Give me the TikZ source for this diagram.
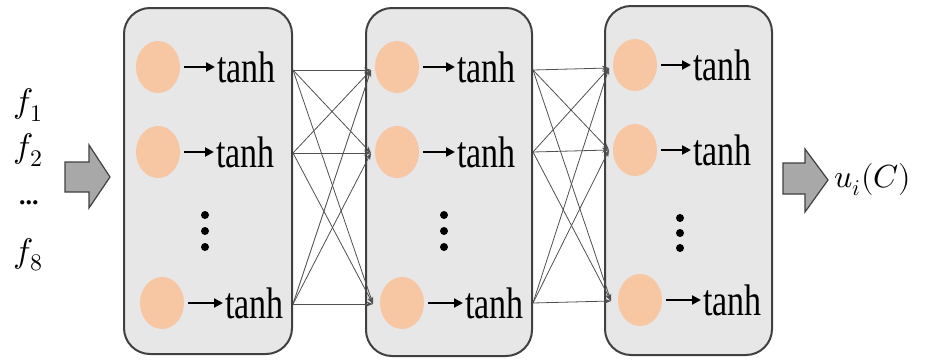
\documentclass[tikz,border=0pt]{standalone}
\usepackage{fontspec}
\usepackage{unicode-math}
\setmainfont{Liberation Serif}
\setmathfont{Latin Modern Math}
\usetikzlibrary{arrows.meta}
\definecolor{boxfill}{HTML}{E7E7E7}
\definecolor{boxline}{HTML}{404040}
\definecolor{peach}{HTML}{F7C6A3}
\definecolor{fatfill}{HTML}{A8A8A8}
\definecolor{wire}{HTML}{505050}
\tikzset{
  layerbox/.style={draw=boxline, line width=2pt, fill=boxfill, rounded corners=26pt},
  neuron/.style={ellipse, fill=peach, minimum width=44pt, minimum height=52pt, inner sep=0pt},
  act/.style={anchor=west, inner sep=0pt, font=\fontsize{34}{34}\selectfont},
  actarrow/.style={line width=2pt, draw=black, -{Triangle[length=9pt,width=9pt]}, shorten <=4pt, shorten >=2pt},
  wirearrow/.style={draw=wire, line width=0.8pt, -{Stealth[length=7pt,width=5pt]}},
  dot/.style={circle, fill=black, minimum size=8pt, inner sep=0pt},
  fat/.style={draw=boxline, line width=1.2pt, fill=fatfill},
  mlabel/.style={inner sep=0pt, font=\fontsize{34}{34}\selectfont}
}
\usetikzlibrary{shapes.geometric}
\begin{document}
\begin{tikzpicture}[x=1pt,y=-1pt]
\useasboundingbox (0,0) rectangle (930,364);
% boxes
\path[layerbox] (124,8) rectangle (292,354);
\path[layerbox] (366,8) rectangle (532,356);
\path[layerbox] (605,6) rectangle (772,355);
% layer 1
\node[neuron] (c11) at (158,67) {};
\node[neuron] (c12) at (158,152) {};
\node[neuron] (c13) at (162,303) {};
\node[act] (t11) at (217,67) {\scalebox{1}[1.3]{tanh}};
\node[act] (t12) at (216,152) {\scalebox{1}[1.3]{tanh}};
\node[act] (t13) at (225,303) {\scalebox{1}[1.3]{tanh}};
\draw[actarrow] (c11) -- (t11);
\draw[actarrow] (c12) -- (t12);
\draw[actarrow] (c13) -- (t13);
\node[dot] (d11) at (205,215) {};
\node[dot] (d12) at (205,231) {};
\node[dot] (d13) at (205,247) {};
% layer 2
\node[neuron] (c21) at (397,67) {};
\node[neuron] (c22) at (397,152) {};
\node[neuron] (c23) at (402,303) {};
\node[act] (t21) at (457,67) {\scalebox{1}[1.3]{tanh}};
\node[act] (t22) at (457,152) {\scalebox{1}[1.3]{tanh}};
\node[act] (t23) at (465,303) {\scalebox{1}[1.3]{tanh}};
\draw[actarrow] (c21) -- (t21);
\draw[actarrow] (c22) -- (t22);
\draw[actarrow] (c23) -- (t23);
\node[dot] (d21) at (444,215) {};
\node[dot] (d22) at (444,231) {};
\node[dot] (d23) at (444,247) {};
% layer 3
\node[neuron] (c31) at (635,65) {};
\node[neuron] (c32) at (635,150) {};
\node[neuron] (c33) at (640,300) {};
\node[act] (t31) at (693,65) {\scalebox{1}[1.3]{tanh}};
\node[act] (t32) at (693,150) {\scalebox{1}[1.3]{tanh}};
\node[act] (t33) at (703,300) {\scalebox{1}[1.3]{tanh}};
\draw[actarrow] (c31) -- (t31);
\draw[actarrow] (c32) -- (t32);
\draw[actarrow] (c33) -- (t33);
\node[dot] (d31) at (680,218) {};
\node[dot] (d32) at (680,233) {};
\node[dot] (d33) at (680,248) {};
% wire ends
\coordinate (o11) at (293,70);
\coordinate (o12) at (293,153);
\coordinate (o13) at (293,304);
\coordinate (i21) at (371,70);
\coordinate (i22) at (371,153);
\coordinate (i23) at (373,304);
\coordinate (o21) at (533,70);
\coordinate (o22) at (533,152);
\coordinate (o23) at (533,303);
\coordinate (i31) at (609,68);
\coordinate (i32) at (609,150);
\coordinate (i33) at (611,301);
\foreach \a in {1,2,3}{
  \foreach \b in {1,2,3}{
    \draw[wirearrow] (o1\a) -- (i2\b);
    \draw[wirearrow] (o2\a) -- (i3\b);
  }
}
% input labels
\node[mlabel] (f1) at (28,105) {$f_1$};
\node[mlabel] (f2) at (28,150) {$f_2$};
\node[mlabel, font=\fontsize{26}{26}\selectfont\bfseries] (fd) at (29,203) {...};
\node[mlabel] (f8) at (28,255) {$f_8$};
\node[mlabel, font=\fontsize{32}{32}\selectfont] (u) at (873,180) {$u_i(C)$};
% fat arrows
\path[fat] (65,162) -- (89,162) -- (89,145) -- (110,177) -- (89,208) -- (89,192) -- (65,192) -- cycle;
\path[fat] (783,163) -- (805,163) -- (805,149) -- (828,180) -- (805,212) -- (805,194) -- (783,194) -- cycle;
\end{tikzpicture}
\end{document}
